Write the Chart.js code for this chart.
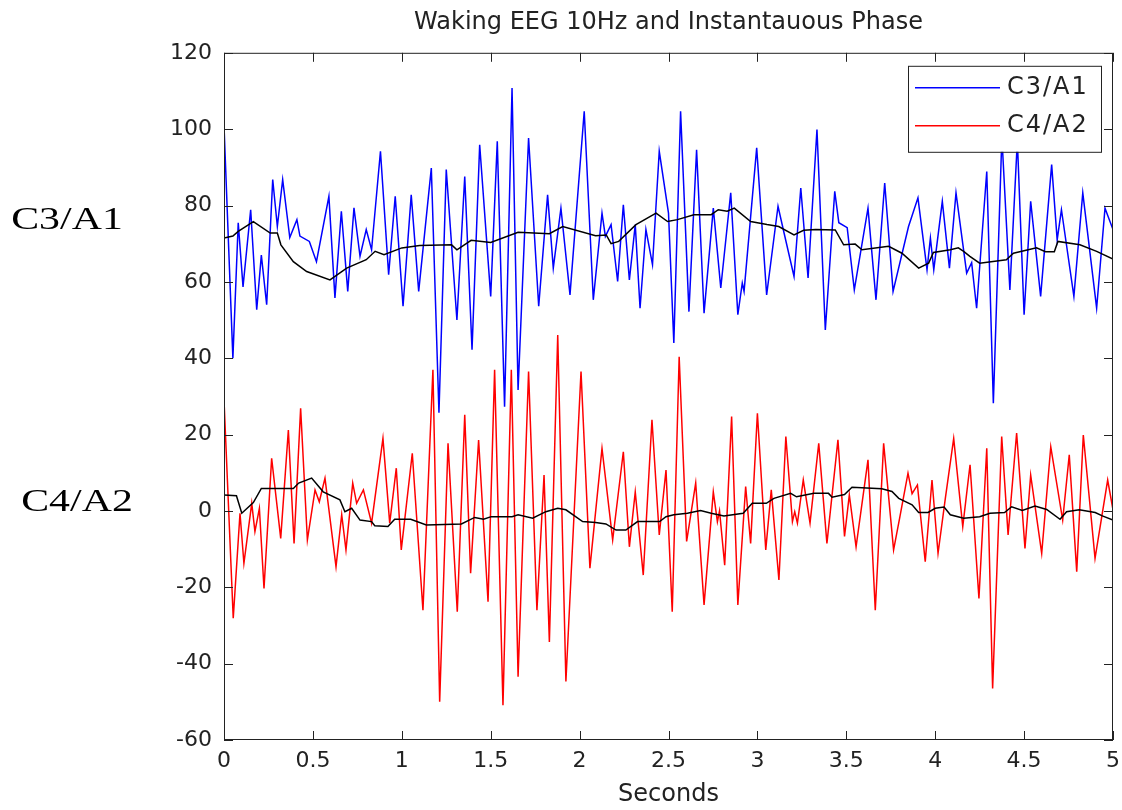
<!DOCTYPE html>
<html>
<head>
<meta charset="utf-8">
<title>Waking EEG 10Hz and Instantauous Phase</title>
<script src="https://cdn.jsdelivr.net/npm/chart.js@4/dist/chart.umd.min.js"></script>
<style>
  html, body { margin: 0; padding: 0; background: #fff; }
  canvas { display: block; }
</style>
</head>
<body>
<canvas id="eegChart" width="1122" height="810"></canvas>
<script>
const c3Time = [0, 0.05, 0.08, 0.107, 0.15, 0.184, 0.21, 0.24, 0.274, 0.30, 0.33, 0.37, 0.41, 0.427, 0.48, 0.52,
  0.59, 0.624, 0.66, 0.696, 0.731, 0.765, 0.80, 0.83, 0.88, 0.926, 0.963, 1.007, 1.053, 1.095, 1.166, 1.209,
  1.25, 1.31, 1.354, 1.395, 1.438, 1.50, 1.537, 1.578, 1.62, 1.654, 1.713, 1.77, 1.82, 1.852, 1.895, 1.946,
  2.026, 2.077, 2.126, 2.145, 2.177, 2.214, 2.246, 2.28, 2.313, 2.34, 2.373, 2.41, 2.448, 2.50, 2.53, 2.568,
  2.615, 2.658, 2.70, 2.752, 2.794, 2.85, 2.89, 2.915, 2.925, 2.996, 3.052, 3.116, 3.15, 3.206, 3.244, 3.285,
  3.335, 3.382, 3.435, 3.458, 3.505, 3.545, 3.622, 3.667, 3.716, 3.763, 3.85, 3.903, 3.954, 3.973, 3.992, 4.04,
  4.08, 4.117, 4.177, 4.205, 4.233, 4.29, 4.327, 4.375, 4.42, 4.462, 4.50, 4.537, 4.593, 4.655, 4.686, 4.71,
  4.78, 4.83, 4.908, 4.955, 5.0];
const c3Value = [101, 40, 75.5, 58.7, 78.9, 52.7, 67, 54, 86.8, 74.5, 86.8, 71.6, 76.3, 72, 70.6, 65.3,
  82.4, 55.8, 78.5, 57.5, 79.4, 66.7, 73.7, 68.4, 94.2, 61.9, 82.4, 53.6, 82.8, 57.5, 89.8, 25.7,
  89.4, 50, 87.6, 42.2, 95.9, 56.2, 96.8, 27.3, 110.8, 31.7, 97.7, 53.6, 82.8, 63.6, 79.3, 56.6,
  104.7, 55.3, 78, 71.9, 75, 60.1, 80.2, 60.5, 75, 53.1, 73.7, 64.5, 94.2, 78, 44, 104.7,
  52.2, 94.6, 51.8, 79.3, 58.4, 83.3, 51.4, 59.7, 57.5, 95.1, 56.6, 79.8, 72.8, 61.4, 84.6, 61,
  99.9, 47.4, 83.7, 75.5, 74.2, 57.9, 79.3, 55.3, 85.9, 57.5, 74.5, 82, 63.2, 71.5, 63.2, 81.1,
  63.6, 83.3, 62.3, 65, 53.1, 88.9, 28.2, 98, 57.9, 97, 51.4, 81.1, 56.2, 90.7, 71, 78.9,
  56.2, 83.3, 53.1, 79.3, 73.7];

// C4/A2 channel (red)
const c4Time = [0, 0.052, 0.09, 0.112, 0.156, 0.174, 0.199, 0.225, 0.268, 0.319, 0.362, 0.394, 0.431, 0.469,
  0.512, 0.536, 0.568, 0.63, 0.662, 0.686, 0.724, 0.746, 0.784, 0.83, 0.894, 0.932, 0.969, 0.997, 1.059, 1.119,
  1.175, 1.213, 1.26, 1.312, 1.354, 1.387, 1.432, 1.485, 1.522, 1.569, 1.616, 1.654, 1.713, 1.76, 1.80, 1.83,
  1.877, 1.923, 2.008, 2.058, 2.126, 2.186, 2.246, 2.28, 2.313, 2.358, 2.407, 2.448, 2.486, 2.521, 2.56, 2.602,
  2.653, 2.70, 2.752, 2.775, 2.787, 2.816, 2.855, 2.89, 2.934, 2.962, 3.0, 3.047, 3.078, 3.121, 3.16, 3.197,
  3.21, 3.225, 3.258, 3.296, 3.345, 3.391, 3.453, 3.49, 3.517, 3.555, 3.622, 3.663, 3.71, 3.766, 3.80, 3.847,
  3.87, 3.90, 3.944, 3.982, 4.016, 4.057, 4.104, 4.155, 4.196, 4.246, 4.29, 4.323, 4.374, 4.41, 4.458, 4.505,
  4.537, 4.599, 4.65, 4.717, 4.754, 4.796, 4.833, 4.899, 4.97, 5.0];
const c4Value = [29.1, -28.1, -0.6, -13.7, 2, -5.4, 0.7, -20.3, 13.8, -7.2, 21.2, -8.5, 26.9, -7.6,
  5.5, 2.4, 8.6, -14.6, -1, -10.2, 7.3, 2, 5.5, -3.2, 19, -3.2, 11.2, -10.2, 15.1, -26,
  37, -50, 17.7, -26.4, 25.2, -16.3, 18.6, -23.8, 37, -50.9, 37, -43.4, 36.5, -26, 9.4, -34.3,
  46.1, -44.7, 36.5, -15, 16.4, -7.6, 15.5, -9.4, 5, -16.8, 23.9, -6.3, 10.7, -26.4, 40.4, -8,
  7.3, -24.6, 5, -2.8, 0, -14.2, 24.7, -24.6, 6.4, -8.5, 25.6, -10.2, 5.5, -18.1, 19.5, -2.8,
  -0.2, -3.2, 8.1, -3.2, 17.7, -8.5, 18.6, -6.7, 4.2, -9.4, 13.4, -26, 17.7, -10.2, -1.9, 9.9,
  4.5, 6.8, -13.3, 8.1, -11.1, 3.3, 19, -4.1, 12.1, -22.9, 16.4, -46.5, 19.5, -6.3, 20.4, -9.8,
  9.4, -11.1, 16.8, -2.4, 14.7, -15.9, 19.9, -12.4, 8.1, 0.3];

// instantaneous phase traces (black)
const c3PhaseTime = [0, 0.05, 0.08, 0.165, 0.26, 0.30, 0.32, 0.39, 0.465, 0.596, 0.69, 0.80, 0.85, 0.90, 1.0,
  1.10, 1.28, 1.31, 1.39, 1.50, 1.654, 1.83, 1.905, 2.09, 2.15, 2.177, 2.22, 2.317, 2.43, 2.495, 2.55, 2.643,
  2.74, 2.78, 2.83, 2.87, 2.962, 3.054, 3.12, 3.206, 3.26, 3.328, 3.438, 3.485, 3.55, 3.588, 3.738, 3.813,
  3.907, 3.963, 3.99, 4.085, 4.13, 4.16, 4.195, 4.25, 4.40, 4.44, 4.57, 4.62, 4.67, 4.69, 4.814, 4.908, 5.0];
const c3PhaseValue = [71.5, 72, 73.2, 75.8, 72.8, 72.8, 69.7, 65.3, 62.7, 60.5, 63.6, 65.8, 68, 67.1, 68.9,
  69.5, 69.7, 68.4, 70.9, 70.3, 73, 72.6, 74.5, 72.1, 72.3, 70, 70.6, 75, 78, 75.8, 76.3, 77.6,
  77.6, 78.9, 78.5, 79.3, 75.8, 75, 74.5, 72.3, 73.5, 73.7, 73.6, 69.7, 69.9, 68.4, 69.3, 67.5,
  63.6, 64.9, 67.7, 68.4, 68.9, 68, 66.7, 64.9, 65.8, 67.5, 68.9, 67.9, 67.9, 70.6, 69.7, 68, 66];

const c4PhaseTime = [0, 0.07, 0.1, 0.165, 0.21, 0.39, 0.42, 0.493, 0.558, 0.652, 0.68, 0.718, 0.765, 0.83,
  0.848, 0.922, 0.96, 1.05, 1.138, 1.335, 1.41, 1.46, 1.503, 1.62, 1.654, 1.736, 1.81, 1.877, 1.923, 2.017,
  2.09, 2.148, 2.205, 2.26, 2.326, 2.45, 2.486, 2.53, 2.606, 2.68, 2.74, 2.812, 2.92, 2.971, 3.05, 3.093,
  3.187, 3.22, 3.318, 3.40, 3.42, 3.49, 3.532, 3.7, 3.757, 3.795, 3.87, 3.907, 3.96, 4.0, 4.05, 4.085,
  4.16, 4.25, 4.308, 4.39, 4.43, 4.49, 4.561, 4.627, 4.702, 4.739, 4.81, 4.90, 4.94, 5.0];
const c4PhaseValue = [4.2, 4, -0.6, 2.2, 5.9, 5.9, 7.3, 8.6, 5, 2.9, -0.2, 0.7, -2.4, -2.8,
  -3.9, -4.1, -2.2, -2.2, -3.7, -3.4, -1.7, -2.2, -1.5, -1.5, -1, -1.9, -0.2, 0.7, 0.3, -2.8,
  -3, -3.4, -5, -5, -2.8, -2.8, -1.5, -1, -0.6, 0.1, -0.6, -1.3, -0.6, 2, 2, 3.3,
  4.6, 3.7, 4.6, 4.6, 3.6, 4.3, 6.2, 5.8, 5.1, 3.3, 1.6, -0.4, -0.4, 0.7, 1, -1,
  -1.9, -1.5, -0.6, -0.4, 1.1, 0.1, 1.3, 0.4, -2.2, -0.2, 0.3, -0.4, -1.3, -2.4];

const channelLabels = ['C3/A1', 'C4/A2'];
const xTicks = [0, 0.5, 1, 1.5, 2, 2.5, 3, 3.5, 4, 4.5, 5];

function toPoints(ts, vs) {
  return ts.map((t, i) => ({ x: t, y: vs[i] }));
}

const axisFont = { family: 'DejaVu Sans', size: 22 };
const titleFont = { family: 'DejaVu Sans', size: 24, weight: 'normal' };

// matlab style box: frame round the plot, ticks pointing inward, legend inside
const matlabBox = {
  id: 'matlabBox',
  afterDatasetsDraw(chart) {
    const { ctx, chartArea: a, scales } = chart;
    ctx.save();
    ctx.strokeStyle = '#222';
    ctx.lineWidth = 1;
    ctx.strokeRect(a.left + 0.5, a.top + 0.5, a.right - a.left - 1, a.bottom - a.top - 1);
    ctx.beginPath();
    scales.y.ticks.forEach(t => {
      const py = Math.round(scales.y.getPixelForValue(t.value)) + 0.5;
      ctx.moveTo(a.left, py); ctx.lineTo(a.left + 9, py);
      ctx.moveTo(a.right, py); ctx.lineTo(a.right - 9, py);
    });
    scales.x.ticks.forEach(t => {
      const px = Math.round(scales.x.getPixelForValue(t.value)) + 0.5;
      ctx.moveTo(px, a.bottom); ctx.lineTo(px, a.bottom - 9);
      ctx.moveTo(px, a.top); ctx.lineTo(px, a.top + 9);
    });
    ctx.stroke();

    // legend
    const lx = a.right - 205, ly = a.top + 13, lw = 193, lh = 86;
    ctx.fillStyle = '#fff';
    ctx.fillRect(lx, ly, lw, lh);
    ctx.strokeStyle = '#222';
    ctx.strokeRect(lx + 0.5, ly + 0.5, lw, lh);
    ctx.font = '24px "DejaVu Sans"';
    ctx.letterSpacing = '2px';
    ctx.textBaseline = 'middle';
    [0, 1].forEach(i => {
      const ds = chart.data.datasets[i];
      const yy = ly + 22 + i * 38;
      ctx.strokeStyle = ds.borderColor;
      ctx.lineWidth = 1.5;
      ctx.beginPath();
      ctx.moveTo(lx + 7, yy); ctx.lineTo(lx + 92, yy);
      ctx.stroke();
      ctx.fillStyle = '#222';
      ctx.fillText(ds.label, lx + 99, yy);
    });
    ctx.restore();
  },
  afterDraw(chart) {
    const { ctx, scales } = chart;
    ctx.save();
    ctx.font = '31px "Liberation Serif"';
    ctx.fillStyle = '#000';
    ctx.textAlign = 'center';
    ctx.textBaseline = 'middle';
    // the side labels come out stretched wide in the original
    ctx.scale(1.35, 1);
    ctx.fillText(channelLabels[0], 67 / 1.35, scales.y.getPixelForValue(76));
    ctx.fillText(channelLabels[1], 77 / 1.35, scales.y.getPixelForValue(2));
    ctx.restore();
  }
};

new Chart(document.getElementById('eegChart'), {
  type: 'line',
  data: {
    datasets: [
      { label: channelLabels[0], data: toPoints(c3Time, c3Value), borderColor: '#0000ff', borderWidth: 1.5, order: 1 },
      { label: channelLabels[1], data: toPoints(c4Time, c4Value), borderColor: '#ff0000', borderWidth: 1.5, order: 1 },
      { label: 'C3/A1 phase', data: toPoints(c3PhaseTime, c3PhaseValue), borderColor: '#000', borderWidth: 1.5, order: 0 },
      { label: 'C4/A2 phase', data: toPoints(c4PhaseTime, c4PhaseValue), borderColor: '#000', borderWidth: 1.5, order: 0 }
    ]
  },
  options: {
    responsive: false,
    animation: false,
    elements: { point: { radius: 0 }, line: { tension: 0 } },
    layout: { padding: { right: 9 } },
    plugins: {
      legend: { display: false },
      tooltip: { enabled: false },
      title: {
        display: true,
        fullSize: false,
        text: 'Waking EEG 10Hz and Instantauous Phase',
        color: '#222',
        font: titleFont,
        padding: { top: 8, bottom: 16 }
      }
    },
    scales: {
      x: {
        type: 'linear',
        min: 0,
        max: 5,
        afterBuildTicks: s => { s.ticks = xTicks.map(v => ({ value: v })); },
        afterFit: s => { s.height = 70; s.paddingLeft = 0; s.paddingRight = 0; },
        grid: { display: false, drawTicks: false },
        border: { display: false },
        ticks: { color: '#222', font: axisFont, padding: 8, maxRotation: 0, callback: v => String(v) },
        title: { display: true, text: 'Seconds', color: '#222', font: titleFont, padding: { top: 0, bottom: 1 } }
      },
      y: {
        min: -60,
        max: 120,
        afterFit: s => { s.width = 224; s.paddingTop = 0; s.paddingBottom = 0; },
        grid: { display: false, drawTicks: false },
        border: { display: false },
        ticks: { stepSize: 20, color: '#222', font: axisFont, padding: 12 }
      }
    }
  },
  plugins: [matlabBox]
});
</script>
</body>
</html>
